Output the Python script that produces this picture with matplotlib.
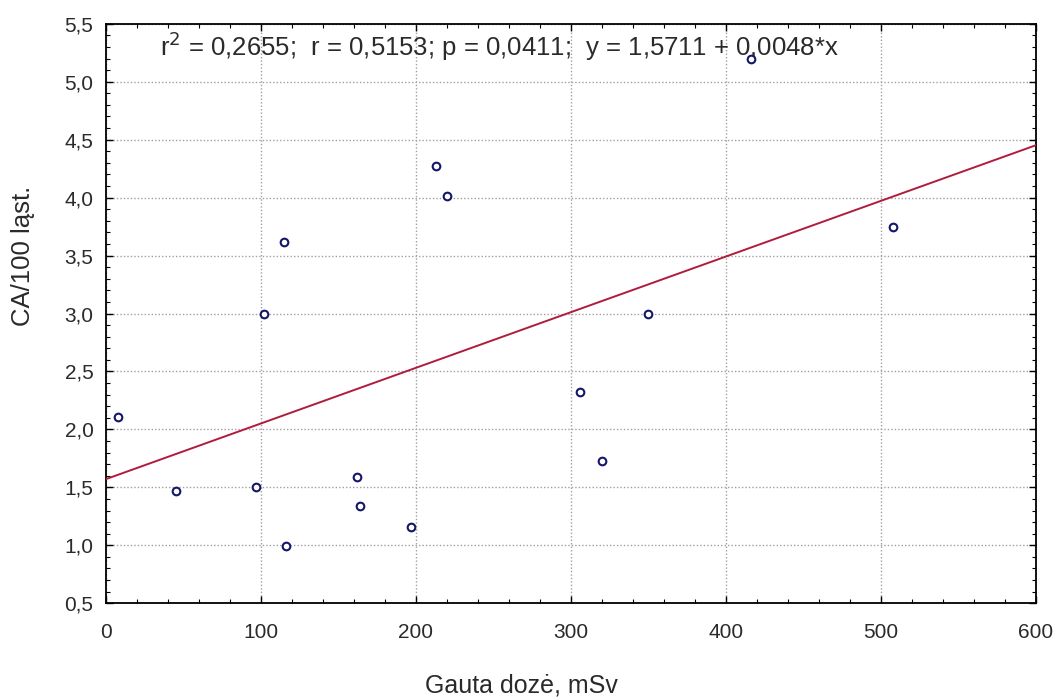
import matplotlib
matplotlib.use("Agg")
import matplotlib.pyplot as plt
from matplotlib.ticker import MultipleLocator, FuncFormatter
import numpy as np

plt.rcParams['font.family'] = ['Liberation Sans', 'DejaVu Sans']

# dozes (mSv) ir CA/100 ląst. nuskaityti nuo paveikslo
doze = [8, 45, 97, 102, 115, 116, 162, 164, 197, 213, 220,
        306, 320, 350, 416, 508]
ca = [2.11, 1.47, 1.50, 3.00, 3.62, 0.99, 1.59, 1.34, 1.16, 4.27, 4.01,
      2.32, 1.73, 3.00, 5.20, 3.75]

# regresijos koeficientai
a0 = 1.5711
a1 = 0.0048
stat_text = "r$^2$ = 0,2655;  r = 0,5153; p = 0,0411;  y = 1,5711 + 0,0048*x"

fig = plt.figure(figsize=(10.6, 6.99), dpi=100)
ax = fig.add_axes([0.100, 0.137, 0.877, 0.829])

# grid
ax.grid(True, which='major', color='#a0a0a0', linestyle=(0, (1, 1.5)), linewidth=1.0)
ax.set_axisbelow(True)

# linija
xl = np.array([0, 600])
ax.plot(xl, a0 + a1 * xl, color='#b01c3c', linewidth=1.4, zorder=3)

# taskai
ax.plot(doze, ca, linestyle='none', marker='o', markersize=5.5,
        markerfacecolor='white', markeredgecolor='#15156b', markeredgewidth=1.5, zorder=4)

ax.set_xlim(0, 600)
ax.set_ylim(0.5, 5.5)
ax.xaxis.set_major_locator(MultipleLocator(100))
ax.yaxis.set_major_locator(MultipleLocator(0.5))
ax.xaxis.set_minor_locator(MultipleLocator(20))
ax.yaxis.set_minor_locator(MultipleLocator(0.1))
ax.yaxis.set_major_formatter(FuncFormatter(lambda v, p: f"{v:.1f}".replace('.', ',')))
ax.xaxis.set_major_formatter(FuncFormatter(lambda v, p: f"{v:.0f}"))

ax.tick_params(which='both', direction='in', top=True, right=True, colors='black',
               labelcolor='#2a2a2a', labelsize=15)
ax.tick_params(which='major', length=5, width=1)
ax.tick_params(axis='x', which='major', pad=14)
ax.tick_params(axis='y', which='major', pad=9)
ax.tick_params(which='minor', length=3, width=0.8)
for s in ax.spines.values():
    s.set_linewidth(1.3)
    s.set_color('black')

ax.set_xlabel("Gauta dozė, mSv", fontsize=18, color='#2a2a2a')
ax.set_ylabel("CA/100 ląst.", fontsize=18.5, color='#2a2a2a')
ax.xaxis.set_label_coords(0.447, -0.122)
ax.yaxis.set_label_coords(-0.076, 0.60)

ax.text(0.058, 0.99, stat_text, transform=ax.transAxes, fontsize=18.5,
        color='#2a2a2a', va='top', ha='left')

fig.savefig("out.png", dpi=100, facecolor='white')
